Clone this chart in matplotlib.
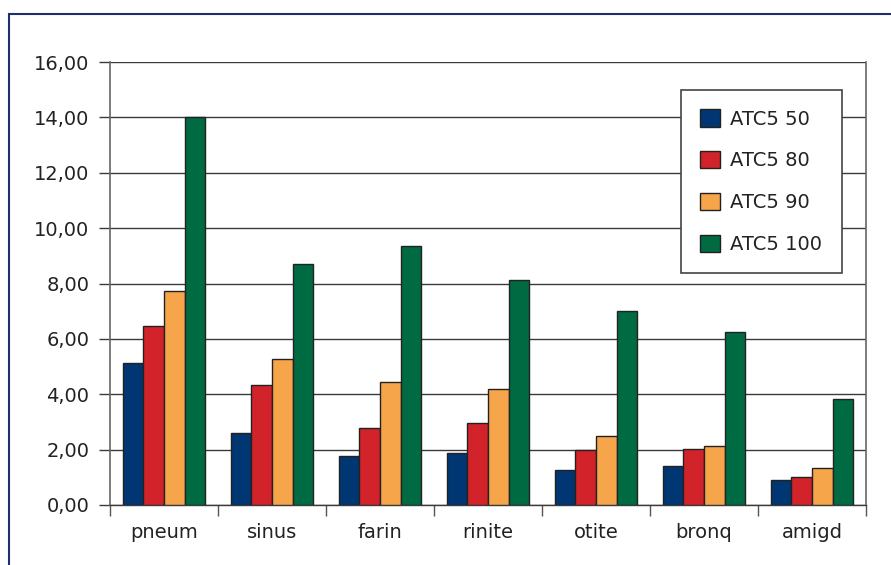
import numpy as np
import matplotlib.pyplot as plt
from matplotlib.patches import Rectangle
from matplotlib.ticker import FuncFormatter

categorias = ["pneum", "sinus", "farin", "rinite", "otite", "bronq", "amigd"]
series = ["ATC5 50", "ATC5 80", "ATC5 90", "ATC5 100"]
atc5_50 = [5.13, 2.60, 1.77, 1.88, 1.26, 1.41, 0.90]
atc5_80 = [6.48, 4.32, 2.78, 2.96, 2.00, 2.01, 1.02]
atc5_90 = [7.73, 5.27, 4.46, 4.18, 2.48, 2.14, 1.33]
atc5_100 = [14.02, 8.70, 9.35, 8.12, 6.99, 6.26, 3.83]
valores = [atc5_50, atc5_80, atc5_90, atc5_100]
colores = ['#003672', '#d2232a', '#f7a54a', '#006a42']

fig = plt.figure(figsize=(8.91, 5.65), dpi=100)
ax = fig.add_axes([110/891, 1 - 505/565, 756/891, 443/565])

# marco azul de la figura
fig.patches.append(Rectangle((9/891, -0.1), 1.2, 1 - 14/565 + 0.1,
                             transform=fig.transFigure, fill=False,
                             edgecolor='#1d2f6f', linewidth=1.5))

x = np.arange(len(categorias))
ancho = 0.19
for i, (serie, vals) in enumerate(zip(series, valores)):
    ax.bar(x + (i - 1.5) * ancho, vals, ancho, color=colores[i],
           edgecolor='#222222', linewidth=1.0, label=serie, zorder=3)

ax.set_xlim(-0.5, len(categorias) - 0.5)
ax.set_ylim(0, 16)
ax.set_yticks(np.arange(0, 17, 2))
ax.yaxis.set_major_formatter(FuncFormatter(lambda v, p: f"{v:.2f}".replace('.', ',')))
ax.grid(axis='y', color='#3a3a3a', linewidth=1.0, zorder=1)

ax.set_xticks(x)
ax.set_xticklabels(categorias)
ax.set_xticks(np.arange(-0.5, len(categorias)), minor=True)
ax.tick_params(axis='x', which='major', length=0, pad=13, labelsize=14, labelcolor='#222222')
ax.tick_params(axis='x', which='minor', length=8, width=1.0, color='#555555')
ax.tick_params(axis='y', length=8, width=1.0, color='#3a3a3a', pad=7,
               labelsize=14, labelcolor='#222222')

for lado in ['left', 'right']:
    ax.spines[lado].set_color('#666666')
    ax.spines[lado].set_linewidth(1.2)
ax.spines['top'].set_visible(False)
ax.spines['bottom'].set_color('#3a3a3a')
ax.spines['bottom'].set_linewidth(1.0)

leg = ax.legend(loc='upper left', bbox_to_anchor=(0.755, 0.937), fontsize=14,
                frameon=True, fancybox=False, shadow=False, borderpad=1.0,
                labelspacing=1.15, handlelength=1.0, handleheight=1.0,
                handletextpad=0.55, borderaxespad=0)
leg.get_frame().set_edgecolor('#444444')
leg.get_frame().set_linewidth(1.2)
leg.get_frame().set_alpha(1)
for t in leg.get_texts():
    t.set_color('#222222')

fig.savefig("out.png", dpi=100)
